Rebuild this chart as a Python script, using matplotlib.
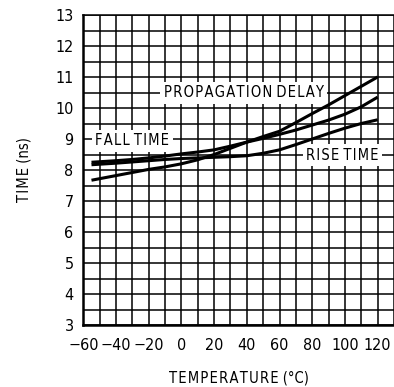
import matplotlib
matplotlib.use("Agg")
import matplotlib.pyplot as plt
import numpy as np

# Temperature (deg C) and switching times (ns)
temp = [-55, -40, -30, -20, -10, 0, 10, 20, 30, 40, 50, 60, 70, 80, 90, 100, 110, 120]
prop_delay = [7.67, 7.82, 7.92, 8.02, 8.1, 8.2, 8.33, 8.5, 8.7, 8.9, 9.08, 9.25, 9.53, 9.82, 10.1, 10.4, 10.7, 11.0]
fall_time = [8.25, 8.3, 8.34, 8.39, 8.45, 8.52, 8.58, 8.65, 8.77, 8.9, 9.02, 9.15, 9.29, 9.45, 9.61, 9.8, 10.04, 10.35]
rise_time = [8.17, 8.22, 8.26, 8.3, 8.34, 8.37, 8.39, 8.41, 8.43, 8.46, 8.54, 8.65, 8.82, 9.0, 9.18, 9.35, 9.5, 9.62]

xticks = [-60, -40, -20, 0, 20, 40, 60, 80, 100, 120]
yticks = [3, 4, 5, 6, 7, 8, 9, 10, 11, 12, 13]

plt.rcParams['font.family'] = ['DejaVu Sans']
plt.rcParams['font.stretch'] = 'condensed'


def spaced(s):
    # wide letter spacing like the datasheet lettering
    return ' '.join('\u200a'.join(w) for w in s.split(' '))


fig = plt.figure(figsize=(3.94, 3.87), dpi=100)
ax = fig.add_axes([83.3 / 394, 62 / 387, 1 - 83.3 / 394, 310 / 387])

ax.set_xlim(-60, 130)
ax.set_ylim(3, 13)

# grid every 10 degC and every 0.5 ns
ax.set_xticks(xticks)
ax.set_xticklabels([str(t).replace('-', '\u2212') for t in xticks])
ax.set_yticks(yticks)
ax.set_xticks(np.arange(-50, 131, 20), minor=True)
ax.set_yticks(np.arange(3.5, 13, 1.0), minor=True)
ax.grid(which='both', color='black', linewidth=1.1)
ax.set_axisbelow(True)

ax.tick_params(which='both', length=0)
ax.tick_params(axis='x', pad=9, labelsize=11.5)
ax.tick_params(axis='y', pad=7, labelsize=11.5)

for side in ['left', 'bottom']:
    ax.spines[side].set_linewidth(1.8)
ax.spines['top'].set_linewidth(1.1)
ax.spines['right'].set_visible(False)

for series in [prop_delay, fall_time, rise_time]:
    ax.plot(temp, series, color='black', linewidth=2.2, solid_capstyle='butt', zorder=3)

box = dict(facecolor='white', edgecolor='none', pad=2.5)
label_style = dict(ha='center', va='center', fontsize=10.5, bbox=box, zorder=4)
ax.text(38, 10.5, spaced('PROPAGATION DELAY'), **label_style)
ax.text(-30, 8.95, spaced('FALL TIME'), **label_style)
ax.text(98.5, 8.48, spaced('RISE TIME'), **label_style)

ax.set_xlabel(spaced('TEMPERATURE') + ' (\u00b0C)', fontsize=10.5, labelpad=13)
ax.set_ylabel(spaced('TIME') + ' (ns)', fontsize=10.5, labelpad=17)

fig.savefig('out.png', dpi=100)
